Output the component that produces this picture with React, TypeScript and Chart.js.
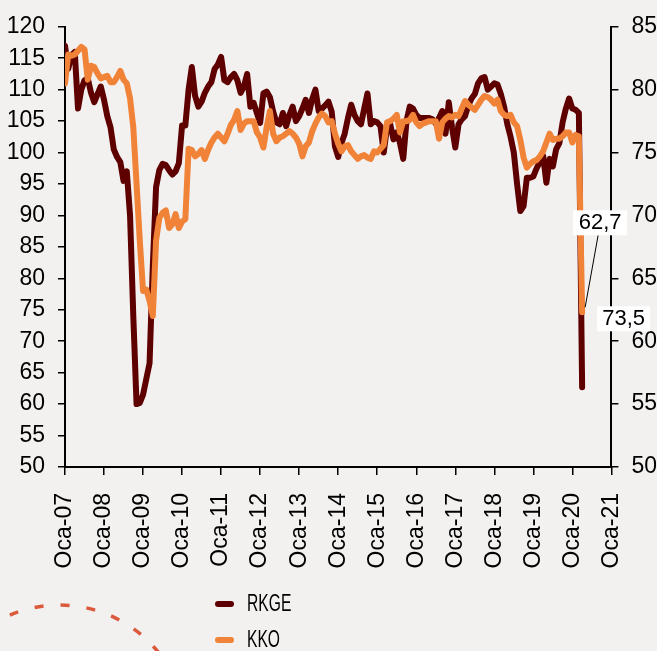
import React, { useEffect, useRef } from 'react';
import { Chart, registerables } from 'chart.js';

Chart.register(...registerables);

// X axis tick labels (one per January, 2007..2021)
const xTickLabels = [
  'Oca-07', 'Oca-08', 'Oca-09', 'Oca-10', 'Oca-11', 'Oca-12', 'Oca-13', 'Oca-14',
  'Oca-15', 'Oca-16', 'Oca-17', 'Oca-18', 'Oca-19', 'Oca-20', 'Oca-21',
];

// RKGE (left axis), monthly Jan 2007 .. Apr 2020
const rkge = [
  117.0, 113.3, 115.5, 116.0, 107.0, 110.0, 111.5, 111.8, 109.5, 108.0,
  109.3, 110.5, 108.4, 105.8, 104.0, 100.5, 99.3, 98.5, 95.5, 97.0,
  90.0, 74.0, 60.0, 60.2, 61.5, 64.0, 66.5, 82.0, 94.5, 97.2,
  98.2, 98.0, 97.2, 96.5, 97.0, 98.3, 104.3, 104.3, 110.0, 113.6,
  109.0, 107.3, 108.1, 109.5, 110.5, 111.2, 113.3, 114.0, 115.2, 111.5,
  111.2, 112.0, 112.5, 111.5, 109.5, 110.5, 112.5, 107.3, 107.9, 106.3,
  104.7, 109.4, 109.7, 108.8, 106.5, 104.8, 104.5, 106.3, 104.2, 106.0,
  107.3, 105.0, 105.8, 107.0, 108.4, 106.3, 108.5, 110.0, 106.6, 107.0,
  107.5, 108.1, 106.5, 101.0, 99.3, 101.5, 103.0, 105.5, 107.6, 106.0,
  105.0, 104.5, 107.0, 109.4, 104.5, 105.0, 104.8, 104.2, 100.0, 104.0,
  104.5, 102.1, 103.2, 101.5, 99.0, 105.0, 107.3, 107.0, 106.0, 105.5,
  105.5, 105.5, 105.5, 105.3, 104.6, 105.5, 106.6, 103.0, 108.0, 104.0,
  100.8, 104.5, 105.3, 105.8, 107.5, 108.6, 109.3, 111.0, 111.8, 112.0,
  110.0, 110.5, 111.0, 110.8, 109.3, 107.3, 104.5, 102.5, 100.0, 95.0,
  90.7, 91.5, 96.0, 96.0, 96.2, 97.5, 98.5, 99.5, 95.2, 99.0,
  97.8, 100.5, 101.5, 104.8, 107.0, 108.6, 107.0, 106.8, 106.3, 62.7,
];

// KKO (right axis), monthly Jan 2007 .. Apr 2020
const kko = [
  80.5, 82.8, 82.7, 82.8, 83.1, 83.4, 83.2, 80.8, 81.9, 81.8,
  81.3, 80.9, 81.0, 81.1, 80.6, 80.6, 81.0, 81.5, 80.8, 80.5,
  79.3, 77.0, 72.5, 68.0, 64.0, 64.1, 63.2, 62.0, 68.0, 69.8,
  70.2, 70.4, 69.0, 69.3, 70.1, 69.0, 69.5, 69.7, 75.3, 75.2,
  74.7, 74.9, 75.2, 74.5, 75.2, 75.8, 76.2, 76.5, 76.2, 75.9,
  76.5, 77.2, 77.6, 78.3, 76.8, 77.3, 77.5, 77.5, 77.5, 76.6,
  76.2, 75.4, 77.0, 78.3, 76.5, 75.9, 76.2, 76.3, 76.5, 76.7,
  76.5, 76.2, 75.7, 74.7, 75.5, 75.8, 76.7, 77.3, 77.8, 78.1,
  77.9, 77.4, 77.5, 76.5, 75.7, 75.1, 75.5, 75.6, 75.1, 74.8,
  74.5, 74.7, 74.8, 74.6, 74.5, 75.1, 75.0, 75.3, 75.6, 77.4,
  77.5, 77.7, 78.0, 76.6, 77.5, 77.5, 77.6, 78.0, 77.4, 77.1,
  77.3, 77.4, 77.5, 77.5, 77.5, 76.1, 77.4, 77.7, 77.9, 77.8,
  78.0, 77.9, 78.5, 79.1, 78.8, 78.6, 78.4, 78.8, 79.2, 79.5,
  79.4, 79.2, 78.9, 79.2, 78.3, 78.0, 77.9, 78.0, 77.4, 77.1,
  76.0, 74.6, 73.8, 74.1, 74.3, 74.4, 74.7, 75.1, 75.8, 76.5,
  76.0, 76.1, 76.1, 76.3, 76.6, 76.6, 75.8, 76.4, 76.3, 62.3,
];

const seriesNames = ['RKGE', 'KKO'];
const calloutTexts = ['62,7', '73,5'];

const DARK = '#5e0000';
const ORANGE = '#f08337';
const BG = '#f2f1f0';
const FONT = "'Liberation Sans', Arial, sans-serif";

export default function App() {
  const ref = useRef<HTMLCanvasElement>(null);

  useEffect(() => {
    if (!ref.current) return;

    const decor = {
      id: 'decor',
      beforeDraw(chart: any) {
        const c = chart.ctx;
        c.save();
        c.fillStyle = BG;
        c.fillRect(0, 0, chart.width, chart.height);
        c.restore();
      },
      afterDraw(chart: any) {
        const c = chart.ctx;
        // callouts at the last orange point
        const meta = chart.getDatasetMeta(1);
        const last = meta.data[meta.data.length - 1];
        const px = last.x;
        const py = last.y;
        c.save();
        c.font = `22px ${FONT}`;
        c.textAlign = 'center';
        c.textBaseline = 'middle';
        c.strokeStyle = '#000';
        c.lineWidth = 1;
        c.beginPath();
        c.moveTo(px + 16, py - 77);
        c.lineTo(px + 3, py - 5);
        c.stroke();
        c.fillStyle = '#fff';
        c.fillRect(px - 9, py - 102, 54, 25);
        c.fillStyle = '#000';
        c.fillText(calloutTexts[0], px + 18, py - 89);
        c.fillStyle = '#fff';
        c.fillRect(px + 15, py - 6, 53, 25);
        c.fillStyle = '#000';
        c.fillText(calloutTexts[1], px + 41.5, py + 7);
        c.restore();

        // legend (stacked)
        c.save();
        chart.data.datasets.forEach((ds: any, i: number) => {
          const y = 604 + i * 36;
          c.strokeStyle = ds.borderColor;
          c.lineWidth = 6;
          c.lineCap = 'round';
          c.beginPath();
          c.moveTo(218, y);
          c.lineTo(231, y);
          c.stroke();
          c.save();
          c.translate(247, y);
          c.scale(0.68, 1);
          c.fillStyle = '#000';
          c.font = `23px ${FONT}`;
          c.textBaseline = 'middle';
          c.textAlign = 'left';
          c.fillText(ds.label, 0, 1);
          c.restore();
        });
        c.restore();

        // decorative dashed arc
        c.save();
        c.strokeStyle = '#db5a3c';
        c.lineWidth = 3.5;
        c.setLineDash([9, 17]);
        c.beginPath();
        c.arc(59.5, 732, 127, (-113 * Math.PI) / 180, (-38 * Math.PI) / 180);
        c.stroke();
        c.restore();
      },
    };

    const tickFont = { family: FONT, size: 23 };

    const chart = new Chart(ref.current, {
      type: 'line',
      data: {
        datasets: [
          {
            label: seriesNames[0],
            data: rkge.map((v, i) => ({ x: i, y: v })),
            borderColor: DARK,
            backgroundColor: DARK,
            borderWidth: 6,
            pointRadius: 0,
            borderJoinStyle: 'round',
            borderCapStyle: 'round',
            yAxisID: 'y',
            order: 1,
          },
          {
            label: seriesNames[1],
            data: kko.map((v, i) => ({ x: i, y: v })),
            borderColor: ORANGE,
            backgroundColor: ORANGE,
            borderWidth: 6,
            pointRadius: 0,
            borderJoinStyle: 'round',
            borderCapStyle: 'round',
            yAxisID: 'y1',
            order: 0,
          },
        ],
      },
      options: {
        animation: false,
        responsive: false,
        devicePixelRatio: 1,
        layout: { padding: { top: 19, bottom: 80, left: 0, right: 0 } },
        plugins: { legend: { display: false }, tooltip: { enabled: false } },
        elements: { line: { tension: 0 } },
        scales: {
          x: {
            type: 'linear',
            min: 0,
            max: 168,
            ticks: {
              stepSize: 12,
              autoSkip: false,
              maxRotation: 90,
              minRotation: 90,
              padding: 18,
              color: '#000',
              font: { family: FONT, size: 23 },
              callback: (v: any) => xTickLabels[Math.round(Number(v) / 12)],
            },
            grid: { drawOnChartArea: false, color: '#000', tickLength: 8, lineWidth: 1.5 },
            border: { color: '#000', width: 2 },
            afterFit: (s: any) => {
              s.height = 104;
            },
          },
          y: {
            position: 'left',
            min: 50,
            max: 120,
            ticks: { stepSize: 5, padding: 13, color: '#000', font: tickFont },
            grid: { drawOnChartArea: false, color: '#000', tickLength: 7, lineWidth: 1.5 },
            border: { color: '#000', width: 2 },
            afterFit: (s: any) => {
              s.width = 65;
            },
          },
          y1: {
            position: 'right',
            min: 50,
            max: 85,
            ticks: { stepSize: 5, padding: 13, color: '#000', font: tickFont },
            grid: { drawOnChartArea: false, color: '#000', tickLength: 7, lineWidth: 1.5 },
            border: { color: '#000', width: 2 },
            afterFit: (s: any) => {
              s.width = 45;
            },
          },
        },
      } as any,
      plugins: [decor],
    });

    return () => chart.destroy();
  }, []);

  return (
    <div style={{ position: 'absolute', left: 0, top: 0, width: 657, height: 651, background: BG }}>
      <canvas ref={ref} width={657} height={651} style={{ display: 'block' }} />
    </div>
  );
}
